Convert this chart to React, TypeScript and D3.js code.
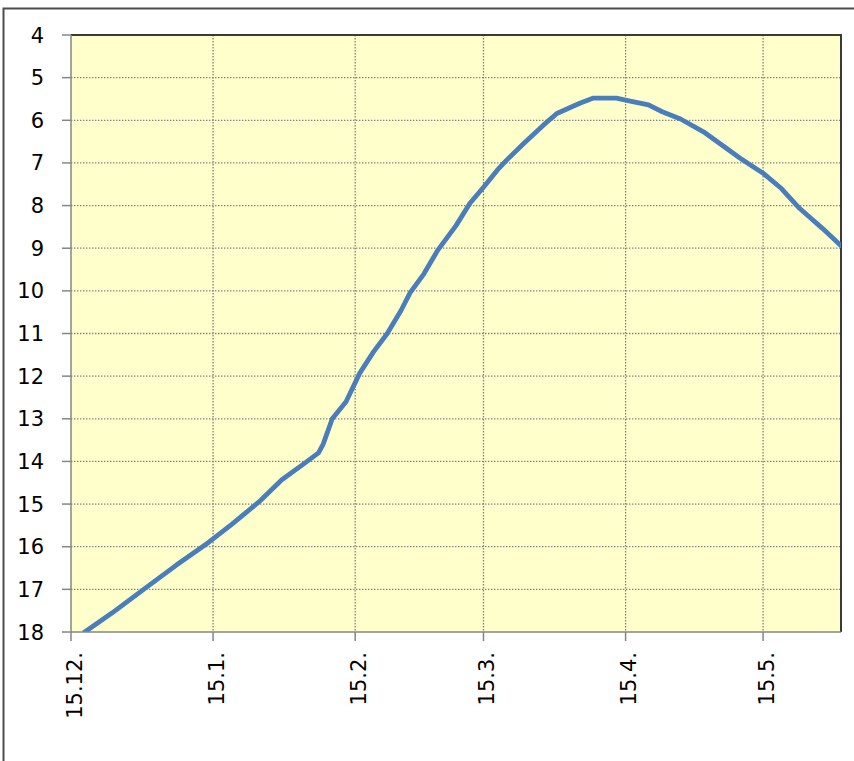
import * as d3 from "d3";
import { useEffect, useRef } from "react";

// readings (date, value) taken off the chart
const dates = [
  "2014-12-18", "2014-12-24", "2014-12-31", "2015-01-07", "2015-01-14",
  "2015-01-19", "2015-01-25", "2015-01-30", "2015-02-04", "2015-02-07",
  "2015-02-08", "2015-02-10", "2015-02-13", "2015-02-16", "2015-02-19",
  "2015-02-22", "2015-02-25", "2015-02-27", "2015-03-02", "2015-03-05",
  "2015-03-09", "2015-03-12", "2015-03-15", "2015-03-18", "2015-03-20",
  "2015-03-24", "2015-03-28", "2015-03-31", "2015-04-05", "2015-04-08",
  "2015-04-13", "2015-04-16", "2015-04-20", "2015-04-23", "2015-04-27",
  "2015-05-02", "2015-05-06", "2015-05-10", "2015-05-15", "2015-05-19",
  "2015-05-23", "2015-05-28", "2015-06-01",
];
const values = [
  18.0, 17.55, 16.99, 16.43, 15.9,
  15.48, 14.95, 14.43, 14.04, 13.8,
  13.6, 13.0, 12.6, 11.93, 11.43,
  11.0, 10.46, 10.04, 9.6, 9.05,
  8.47, 7.95, 7.57, 7.17, 6.94,
  6.52, 6.12, 5.84, 5.6, 5.48,
  5.48, 5.55, 5.64, 5.8, 5.97,
  6.27, 6.58, 6.89, 7.24, 7.6,
  8.07, 8.54, 8.94,
];
const xTickDates = ["2014-12-15", "2015-01-15", "2015-02-15", "2015-03-15", "2015-04-15", "2015-05-15"];
const xTickLabels = ["15.12.", "15.1.", "15.2.", "15.3.", "15.4.", "15.5."];
const yTicks = [4, 5, 6, 7, 8, 9, 10, 11, 12, 13, 14, 15, 16, 17, 18];

const parse = d3.timeParse("%Y-%m-%d");

const W = 854;
const H = 761;
const plot = { left: 71, top: 35, right: 841, bottom: 632 };
const font = "'DejaVu Sans', Verdana, sans-serif";
const fontSize = 21;

export default function App() {
  const ref = useRef<SVGSVGElement>(null);

  useEffect(() => {
    document.body.style.margin = "0";
    if (!ref.current) return;
    const svg = d3.select(ref.current);
    svg.selectAll("*").remove();

    const x = d3
      .scaleTime()
      .domain([parse("2014-12-15") as Date, parse("2015-06-01") as Date])
      .range([plot.left, plot.right]);
    const y = d3.scaleLinear().domain([4, 18]).range([plot.top, plot.bottom]);

    // outer chart border
    svg
      .append("rect")
      .attr("x", 3.5)
      .attr("y", 8.5)
      .attr("width", W + 20)
      .attr("height", H + 20)
      .attr("fill", "#fff")
      .attr("stroke", "#4d4d4d")
      .attr("stroke-width", 2);

    // plot area
    svg
      .append("rect")
      .attr("x", plot.left)
      .attr("y", plot.top)
      .attr("width", plot.right - plot.left)
      .attr("height", plot.bottom - plot.top)
      .attr("fill", "#ffffcc");

    svg
      .append("clipPath")
      .attr("id", "plot-clip")
      .append("rect")
      .attr("x", plot.left)
      .attr("y", plot.top)
      .attr("width", plot.right - plot.left)
      .attr("height", plot.bottom - plot.top);

    // grid
    const grid = svg.append("g");
    grid
      .selectAll("line.h")
      .data(yTicks.slice(1, -1))
      .enter()
      .append("line")
      .attr("x1", plot.left)
      .attr("x2", plot.right)
      .attr("y1", (d) => y(d))
      .attr("y2", (d) => y(d))
      .attr("stroke", "#808080")
      .attr("stroke-width", 1.3)
      .attr("stroke-dasharray", "1.4,1.6");
    grid
      .selectAll("line.v")
      .data(xTickDates.slice(1))
      .enter()
      .append("line")
      .attr("x1", (d) => x(parse(d) as Date))
      .attr("x2", (d) => x(parse(d) as Date))
      .attr("y1", plot.top)
      .attr("y2", plot.bottom)
      .attr("stroke", "#808080")
      .attr("stroke-width", 1.3)
      .attr("stroke-dasharray", "1.4,1.6");

    // plot border top / right
    svg
      .append("path")
      .attr("d", `M${plot.left},${plot.top}H${plot.right}V${plot.bottom}`)
      .attr("fill", "none")
      .attr("stroke", "#3a3a3a")
      .attr("stroke-width", 2);

    // series
    const pts = dates.map((d, i) => ({ date: parse(d) as Date, v: values[i] }));
    const line = d3
      .line<{ date: Date; v: number }>()
      .x((d) => x(d.date))
      .y((d) => y(d.v));
    svg
      .append("path")
      .attr("d", line(pts))
      .attr("clip-path", "url(#plot-clip)")
      .attr("fill", "none")
      .attr("stroke", "#4a7ebb")
      .attr("stroke-width", 4.8)
      .attr("stroke-linejoin", "round")
      .attr("stroke-linecap", "round");

    // axes
    const axisColor = "#868686";
    svg
      .append("line")
      .attr("x1", plot.left)
      .attr("x2", plot.left)
      .attr("y1", plot.top)
      .attr("y2", plot.bottom)
      .attr("stroke", axisColor)
      .attr("stroke-width", 1.5);
    svg
      .append("line")
      .attr("x1", plot.left)
      .attr("x2", plot.right)
      .attr("y1", plot.bottom)
      .attr("y2", plot.bottom)
      .attr("stroke", axisColor)
      .attr("stroke-width", 1.5);

    const yAxis = svg.append("g");
    yAxis
      .selectAll("line")
      .data(yTicks)
      .enter()
      .append("line")
      .attr("x1", plot.left - 9)
      .attr("x2", plot.left)
      .attr("y1", (d) => y(d))
      .attr("y2", (d) => y(d))
      .attr("stroke", axisColor)
      .attr("stroke-width", 1.5);
    yAxis
      .selectAll("text")
      .data(yTicks)
      .enter()
      .append("text")
      .attr("x", 44)
      .attr("y", (d) => y(d))
      .attr("dy", "0.36em")
      .attr("text-anchor", "end")
      .attr("font-family", font)
      .attr("font-size", fontSize)
      .attr("fill", "#000")
      .text((d) => d);

    const xAxis = svg.append("g");
    xAxis
      .selectAll("line")
      .data(xTickDates)
      .enter()
      .append("line")
      .attr("x1", (d) => x(parse(d) as Date))
      .attr("x2", (d) => x(parse(d) as Date))
      .attr("y1", plot.bottom)
      .attr("y2", plot.bottom + 9)
      .attr("stroke", axisColor)
      .attr("stroke-width", 1.5);
    xAxis
      .selectAll("text")
      .data(xTickDates)
      .enter()
      .append("text")
      .attr("transform", (d) => `translate(${x(parse(d) as Date) + 3},${plot.bottom + 20}) rotate(-90)`)
      .attr("dy", "0.36em")
      .attr("text-anchor", "end")
      .attr("font-family", font)
      .attr("font-size", fontSize)
      .attr("fill", "#000")
      .text((_d, i) => xTickLabels[i]);
  }, []);

  return (
    <svg
      ref={ref}
      width={W}
      height={H}
      style={{ position: "absolute", left: 0, top: 0, display: "block" }}
    />
  );
}
